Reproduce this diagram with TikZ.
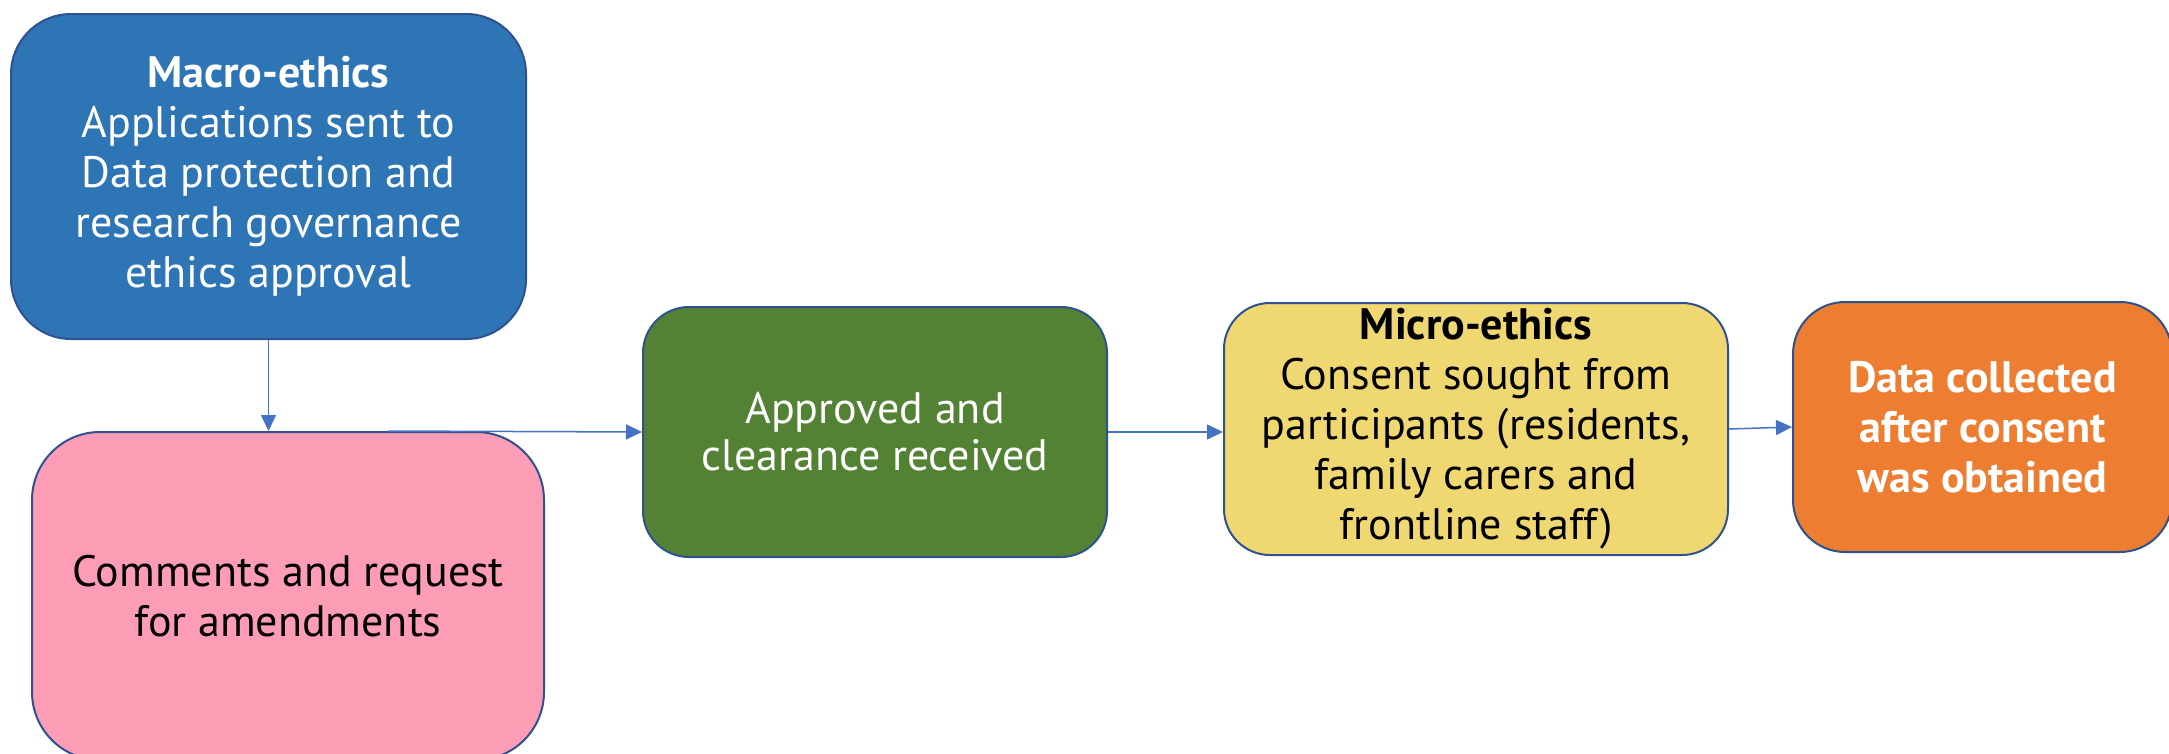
\documentclass[tikz,border=0pt]{standalone}
\usepackage{fontspec}
\setmainfont{PT Sans}
\usetikzlibrary{arrows.meta}
\definecolor{cblue}{HTML}{2E75B6}
\definecolor{cpink}{HTML}{FC9CB5}
\definecolor{cgreen}{HTML}{548235}
\definecolor{cyellow}{HTML}{EFD771}
\definecolor{corange}{HTML}{ED7D31}
\definecolor{cborder}{HTML}{2F528F}
\definecolor{carrow}{HTML}{4472C4}
\tikzset{
  box/.style={draw=cborder, line width=2pt, align=center, inner sep=0pt,
    font=\fontsize{44}{50}\selectfont},
  conn/.style={draw=carrow, line width=1.5pt, -{Triangle[length=16pt,width=15pt]}},
}
\begin{document}
\begin{tikzpicture}[x=1pt,y=-1pt]
\useasboundingbox (0,0) rectangle (2169,753);
\clip (0,0) rectangle (2169,753);
\node[box, fill=cblue, text=white, rounded corners=60pt,
  minimum width=515pt, minimum height=325pt] (macro) at (268.5,176.5)
  {\textbf{Macro-ethics}\\Applications sent to\\Data protection and\\research governance\\ethics approval};
\node[box, fill=cpink, text=black, rounded corners=68pt,
  minimum width=512pt, minimum height=328pt] (comments) at (288,596)
  {Comments and request\\for amendments};
\node[box, fill=cgreen, text=white, rounded corners=46pt,
  minimum width=464pt, minimum height=250pt, font=\fontsize{44}{47}\selectfont] (approved) at (875,432)
  {Approved and\\clearance received};
\node[box, fill=cyellow, text=black, rounded corners=46pt,
  minimum width=504pt, minimum height=252pt] (micro) at (1476,429)
  {\textbf{Micro-ethics}\\Consent sought from\\participants (residents,\\family carers and\\frontline staff)};
\node[box, fill=corange, text=white, rounded corners=52pt,
  minimum width=379pt, minimum height=250pt] (data) at (1982.5,427)
  {\textbf{Data collected}\\\textbf{after consent}\\\textbf{was obtained}};
\coordinate (cstart) at ([xshift=100pt]comments.north);
\draw[conn] (macro.south) -- (macro.south |- comments.north);
\draw[conn] (cstart) -- (approved.west);
\draw[conn] (approved.east) -- (micro.west |- approved.east);
\draw[conn] (micro.east) -- (data.west);
\end{tikzpicture}
\end{document}
